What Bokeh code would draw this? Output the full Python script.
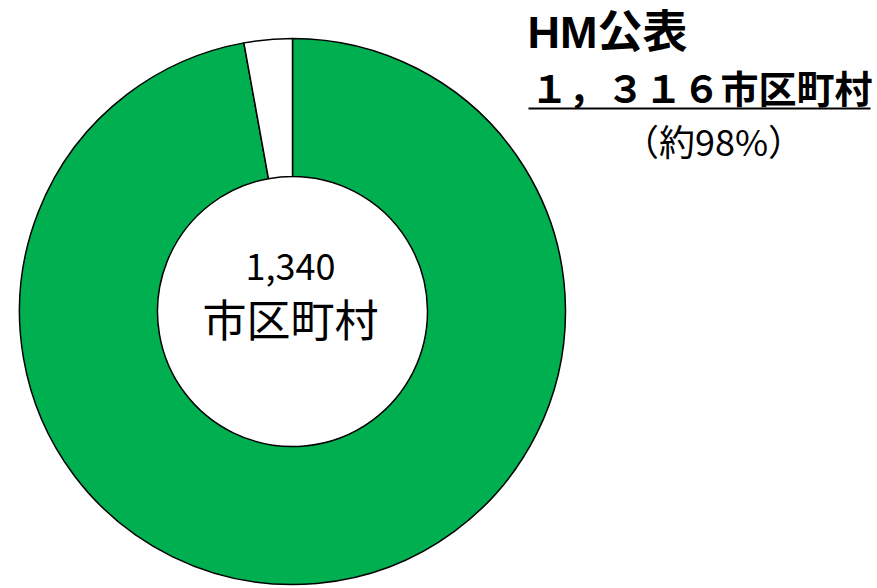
import math
from bokeh.plotting import figure
from bokeh.models import Range1d, ColumnDataSource
from bokeh.core.properties import value
from bokeh.embed import file_html
from bokeh.resources import INLINE

# ---- data ----
categories = ["HM公表", "未公表"]
shares = [97.15, 2.85]          # share of ring (%)
colors = ["#00B050", "#FFFFFF"]
total_label = ["1,340", "市区町村"]
title_lines = ["HM公表", "１，３１６市区町村", "（約98%）"]

W, H = 877, 588
p = figure(width=W, height=H, output_backend="svg", toolbar_location=None,
           x_range=Range1d(0, W), y_range=Range1d(0, H), min_border=0)
p.axis.visible = False
p.grid.visible = False
p.outline_line_color = None
p.background_fill_color = "white"
p.border_fill_color = "white"

cx, cy = 292, H - 311
r_out, r_in = 273, 135

tot = sum(shares)
starts, ends = [], []
a = math.pi / 2
for s in shares:
    starts.append(a)
    a = a - 2 * math.pi * s / tot
    ends.append(a)
src = ColumnDataSource(dict(cat=categories, val=shares, color=colors,
                            start=starts, end=ends,
                            x=[cx] * len(shares), y=[cy] * len(shares)))
p.annular_wedge(x="x", y="y", inner_radius=r_in, outer_radius=r_out,
                start_angle="start", end_angle="end", direction="clock",
                fill_color="color", line_color="black", line_width=1.5, source=src)

cjk = value("'Liberation Sans', 'Noto Sans CJK JP'")
jp = value("Noto Sans CJK JP")
# center labels
p.text(x=[cx - 2], y=[H - 266], text=[total_label[0]], text_font=jp,
       text_font_size="36px", text_align="center", text_baseline="middle", text_color="black")
p.text(x=[cx - 2], y=[H - 317], text=[total_label[1]], text_font=jp,
       text_font_size="44px", text_align="center", text_baseline="middle", text_color="black")

# annotation top-right
p.text(x=[527], y=[H - 32], text=[title_lines[0]], text_font=cjk, text_font_style="bold",
       text_font_size="45px", text_align="left", text_baseline="middle", text_color="black")
p.text(x=[530], y=[H - 86], text=[title_lines[1]], text_font=jp, text_font_style="bold",
       text_font_size="38px", text_align="left", text_baseline="middle", text_color="black")
p.segment(x0=[528], y0=[H - 108], x1=[870], y1=[H - 108], line_color="black", line_width=2)
p.text(x=[713], y=[H - 139], text=[title_lines[2]], text_font=jp,
       text_font_size="36px", text_align="center", text_baseline="middle", text_color="black")

open("out.html", "w").write(file_html(p, INLINE))
